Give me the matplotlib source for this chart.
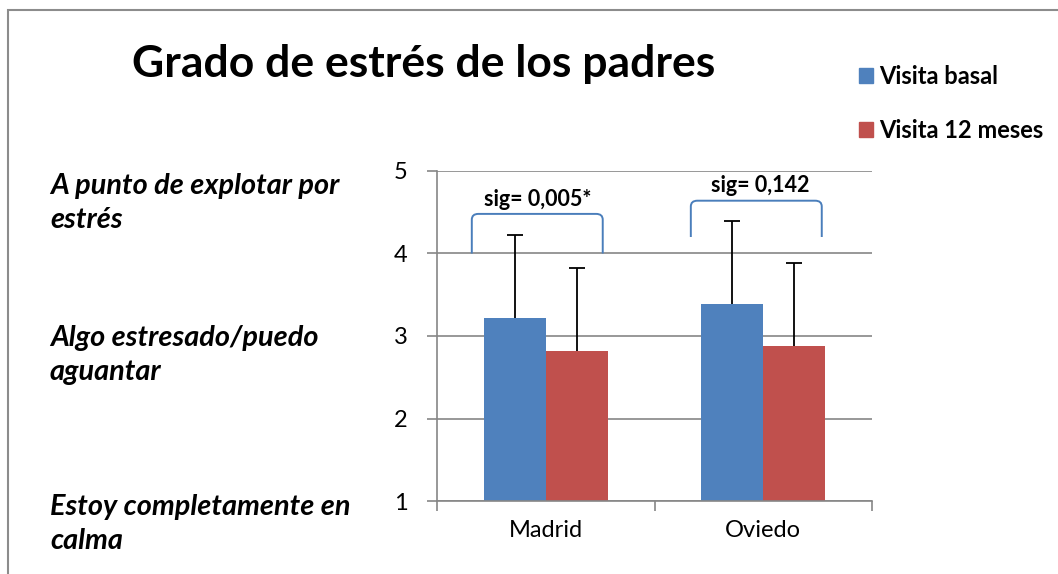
import numpy as np
import matplotlib
matplotlib.use("Agg")
import matplotlib.pyplot as plt
from matplotlib.patches import Patch, Rectangle
from matplotlib.path import Path
from matplotlib.patches import PathPatch

plt.rcParams["font.family"] = ["Lato", "DejaVu Sans"]

categories = ["Madrid", "Oviedo"]
series = ["Visita basal", "Visita 12 meses"]
basal = [3.22, 3.39]
meses12 = [2.82, 2.88]
basal_err = [1.00, 1.00]
meses12_err = [1.00, 1.00]
sig_labels = ["sig= 0,005*", "sig= 0,142"]
level_labels = ["A punto de explotar por\nestrés",
                "Algo estresado/puedo\naguantar",
                "Estoy completamente en\ncalma"]

blue = "#4f81bd"
red = "#c0504d"
grid_gray = "#868686"

fig = plt.figure(figsize=(10.58, 5.74), dpi=100)
fig.patches.append(Rectangle((8 / 1058, -0.1), 1.2, (564 / 574) + 0.1,
                             transform=fig.transFigure, fill=False,
                             ec="#8c8c8c", lw=1.5))

ax = fig.add_axes([437 / 1058, 73 / 574, 435 / 1058, 330 / 574])
x = np.arange(len(categories))
w = 0.285
ax.bar(x - w / 2, basal, w, color=blue, zorder=2)
ax.bar(x + w / 2, meses12, w, color=red, zorder=2)

# upper error bars only (Excel "plus" style)
for xs, vals, errs in [(x - w / 2, basal, basal_err),
                       (x + w / 2, meses12, meses12_err)]:
    tops = np.array(vals) + np.array(errs)
    ax.vlines(xs, vals, tops, color="black", lw=1.3, zorder=3)
    ax.plot(xs, tops, ls="none", marker="_", ms=12, mew=1.3,
            color="black", zorder=3)

ax.set_ylim(1, 5)
ax.set_xlim(-0.5, 1.5)
ax.set_yticks([1, 2, 3, 4, 5])
ax.yaxis.grid(True, color=grid_gray, lw=1.2, zorder=0)
ax.set_axisbelow(True)
for s in ["top", "right"]:
    ax.spines[s].set_visible(False)
for s in ["left", "bottom"]:
    ax.spines[s].set_color(grid_gray)
    ax.spines[s].set_linewidth(1.2)
ax.tick_params(axis="y", length=7, color=grid_gray, width=1.2, labelsize=17,
               pad=14)
ax.set_xticks([-0.5, 0.5, 1.5])
ax.set_xticklabels([])
ax.set_xticks(x, minor=True)
ax.set_xticklabels(categories, minor=True, fontsize=17)
ax.tick_params(axis="x", which="major", length=7, color=grid_gray, width=1.2)
ax.tick_params(axis="x", which="minor", length=0, pad=14)

# significance brackets
brackets = [(-0.34, 0.262, 4.0, 4.48), (-0.333, 0.269, 4.2, 4.64)]
text_pos = [(-0.037, 4.65), (-0.016, 4.82)]
for i, (x0, x1, yb, yt) in enumerate(brackets):
    xa, xb = x[i] + x0, x[i] + x1
    r = 0.03
    ry = 0.07
    verts = [(xa, yb), (xa, yt - ry), (xa, yt), (xa + r, yt),
             (xb - r, yt), (xb, yt), (xb, yt - ry), (xb, yb)]
    codes = [Path.MOVETO, Path.LINETO, Path.CURVE3, Path.CURVE3,
             Path.LINETO, Path.CURVE3, Path.CURVE3, Path.LINETO]
    ax.add_patch(PathPatch(Path(verts, codes), fill=False, ec="#4a7ebb",
                           lw=1.4, clip_on=False, zorder=4))
    tx, ty = text_pos[i]
    ax.text(x[i] + tx, ty, sig_labels[i], ha="center", va="center",
            fontsize=15.5, fontweight="bold", clip_on=False)

fig.text(424 / 1058, 1 - 64 / 574, "Grado de estrés de los padres",
         ha="center", va="center", fontsize=32, fontweight="bold")

label_y = [203, 355, 524]
for lab, yy in zip(level_labels, label_y):
    fig.text(50 / 1058, 1 - yy / 574, lab, ha="left", va="center",
             fontsize=20.8, fontweight="bold", style="italic",
             linespacing=1.42)

handles = [Patch(color=blue), Patch(color=red)]
fig.legend(handles, series, loc="upper left",
           bbox_to_anchor=(838 / 1058, 1 - 44 / 574), frameon=False,
           prop={"size": 17, "weight": "bold"}, handlelength=0.6,
           handleheight=0.6, handletextpad=0.25, labelspacing=1.3)

fig.savefig("out.png", dpi=100)
